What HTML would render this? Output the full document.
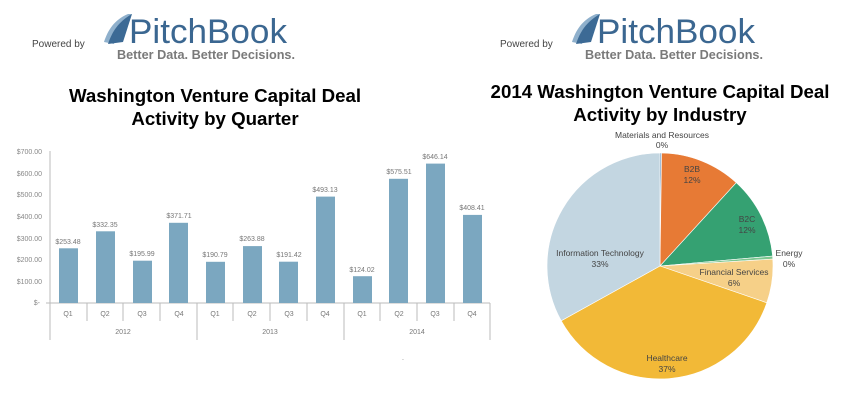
<!DOCTYPE html>
<html><head><meta charset="utf-8"><style>
body{margin:0;background:#fff;width:851px;height:407px;overflow:hidden;font-family:"Liberation Sans",sans-serif}
</style></head><body>
<svg width="851" height="407" viewBox="0 0 851 407" xmlns="http://www.w3.org/2000/svg" font-family="Liberation Sans, sans-serif">
<g id="logo">
<text x="32" y="47" font-size="10" fill="#444">Powered by</text>
<path d="M104 42 C108 30 114 20 128 14 L132 14 C122 22 116 32 114 44 Z" fill="#8fb0cc"/>
<path d="M108 44 C112 32 118 22 132 14 L123 42 Z" fill="#3c6a95"/>
<text x="129" y="43" font-size="34" fill="#3b6791" textLength="158" lengthAdjust="spacingAndGlyphs">PitchBook</text>
<text x="117" y="59" font-size="12.5" font-weight="bold" fill="#7a7a7a" textLength="178" lengthAdjust="spacingAndGlyphs">Better Data. Better Decisions.</text>
</g>
<use href="#logo" x="468" y="0"/>
<text x="215" y="102" font-size="18.7" font-weight="bold" text-anchor="middle" fill="#000">Washington Venture Capital Deal</text>
<text x="215" y="125" font-size="18.7" font-weight="bold" text-anchor="middle" fill="#000">Activity by Quarter</text>
<text x="660" y="98" font-size="18.7" font-weight="bold" text-anchor="middle" fill="#000">2014 Washington Venture Capital Deal</text>
<text x="660" y="121" font-size="18.7" font-weight="bold" text-anchor="middle" fill="#000">Activity by Industry</text>
<g font-size="7" fill="#888" text-anchor="end">
<text x="42" y="154">$700.00</text><text x="42" y="176">$600.00</text><text x="42" y="197">$500.00</text>
<text x="42" y="219">$400.00</text><text x="42" y="241">$300.00</text><text x="42" y="262">$200.00</text>
<text x="42" y="284">$100.00</text><text x="40" y="305">$-</text>
</g>
<g stroke="#bbb" stroke-width="1">
<line x1="50" y1="151" x2="50" y2="340"/><line x1="46" y1="303" x2="490" y2="303"/>
<line x1="197" y1="303" x2="197" y2="340"/><line x1="344" y1="303" x2="344" y2="340"/><line x1="490" y1="303" x2="490" y2="340"/>
<line x1="87" y1="303" x2="87" y2="321"/><line x1="123" y1="303" x2="123" y2="321"/><line x1="160" y1="303" x2="160" y2="321"/>
<line x1="233" y1="303" x2="233" y2="321"/><line x1="270" y1="303" x2="270" y2="321"/><line x1="307" y1="303" x2="307" y2="321"/>
<line x1="380" y1="303" x2="380" y2="321"/><line x1="417" y1="303" x2="417" y2="321"/><line x1="454" y1="303" x2="454" y2="321"/>
</g>
<g fill="#7ba7c0">
<rect x="59" y="248.3" width="19" height="54.7"/>
<rect x="96" y="231.3" width="19" height="71.7"/>
<rect x="133" y="260.7" width="19" height="42.3"/>
<rect x="169" y="222.8" width="19" height="80.2"/>
<rect x="206" y="261.8" width="19" height="41.2"/>
<rect x="243" y="246.1" width="19" height="56.9"/>
<rect x="279" y="261.7" width="19" height="41.3"/>
<rect x="316" y="196.6" width="19" height="106.4"/>
<rect x="353" y="276.2" width="19" height="26.8"/>
<rect x="389" y="178.8" width="19" height="124.2"/>
<rect x="426" y="163.6" width="19" height="139.4"/>
<rect x="463" y="214.9" width="19" height="88.1"/>
</g>
<g font-size="7" fill="#777" text-anchor="middle">
<text x="68" y="244">$253.48</text><text x="105" y="227">$332.35</text><text x="142" y="256">$195.99</text>
<text x="179" y="218">$371.71</text><text x="215" y="257">$190.79</text><text x="252" y="241">$263.88</text>
<text x="289" y="257">$191.42</text><text x="325" y="192">$493.13</text><text x="362" y="272">$124.02</text>
<text x="399" y="174">$575.51</text><text x="435" y="159">$646.14</text><text x="472" y="210">$408.41</text>
<text x="68" y="316">Q1</text><text x="105" y="316">Q2</text><text x="142" y="316">Q3</text><text x="179" y="316">Q4</text>
<text x="215" y="316">Q1</text><text x="252" y="316">Q2</text><text x="289" y="316">Q3</text><text x="325" y="316">Q4</text>
<text x="362" y="316">Q1</text><text x="399" y="316">Q2</text><text x="435" y="316">Q3</text><text x="472" y="316">Q4</text>
<text x="123" y="334">2012</text><text x="270" y="334">2013</text><text x="417" y="334">2014</text>
</g>
<text x="402" y="360" font-size="7" fill="#777">.</text>
<g stroke="#fff" stroke-width="0.6">
<path d="M660 266 L660 153 A113 113 0 0 1 661.6 153 Z" fill="#5b8fc0"/>
<path d="M660 266 L661.6 153 A113 113 0 0 1 736.3 182.7 Z" fill="#e77a35"/>
<path d="M660 266 L736.3 182.7 A113 113 0 0 1 772.6 256.1 Z" fill="#35a172"/>
<path d="M660 266 L772.6 256.1 A113 113 0 0 1 772.8 259.1 Z" fill="#7cc68f"/>
<path d="M660 266 L772.8 259.1 A113 113 0 0 1 766.8 302.8 Z" fill="#f6d088"/>
<path d="M660 266 L766.8 302.8 A113 113 0 0 1 561.2 320.8 Z" fill="#f2b937"/>
<path d="M660 266 L561.2 320.8 A113 113 0 0 1 660 153 Z" fill="#c3d6e1"/>
</g>
<g font-size="8.5" fill="#444" text-anchor="middle">
<text x="662" y="138">Materials and Resources</text><text x="662" y="148">0%</text>
<text x="692" y="172">B2B</text><text x="692" y="183">12%</text>
<text x="747" y="222">B2C</text><text x="747" y="233">12%</text>
<text x="789" y="256">Energy</text><text x="789" y="267">0%</text>
<text x="734" y="275">Financial Services</text><text x="734" y="286">6%</text>
<text x="600" y="256">Information Technology</text><text x="600" y="267">33%</text>
<text x="667" y="361">Healthcare</text><text x="667" y="372">37%</text>
</g>
</svg>
</body></html>
